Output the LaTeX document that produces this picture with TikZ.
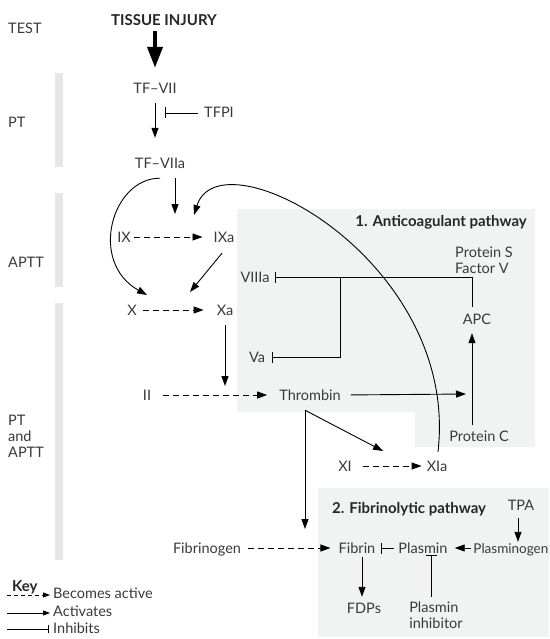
\documentclass[tikz,border=0pt]{standalone}
\usepackage{fontspec}
\setmainfont{Lato}
\usetikzlibrary{arrows.meta,calc}
\definecolor{txt}{HTML}{3A3A3A}
\definecolor{boxc}{HTML}{F1F2F2}
\definecolor{barc}{HTML}{E6E7E8}
\begin{document}
\begin{tikzpicture}[x=1pt,y=-1pt,
  lbl/.style={font=\fontsize{14.5}{16}\selectfont, text=txt, inner sep=2pt, text height=10pt, text depth=0pt},
  lblm/.style={font=\fontsize{14.5}{16}\selectfont, text=txt, inner sep=2pt, align=left},
  ttl/.style={lbl, font=\fontsize{15}{17}\selectfont\bfseries, text=black!85},
  act/.style={line width=0.9pt, -{Triangle[length=10pt,width=7pt]}},
  bec/.style={act, dash pattern=on 6pt off 4pt},
  inh/.style={line width=0.9pt, -{Bar[width=11pt]}},
  thickarr/.style={line width=4pt, -{Triangle[length=21pt,width=15pt]}},
  keyact/.style={line width=0.8pt, -{Triangle[length=7pt,width=5pt]}},
  keybec/.style={keyact, dash pattern=on 4pt off 3pt},
  keyinh/.style={line width=0.8pt, -{Bar[width=8pt]}},
]
\useasboundingbox (0,0) rectangle (549,639);
\fill[white] (0,0) rectangle (549,639);

% test bars
\fill[barc] (55,73) rectangle (63,167);
\fill[barc] (55,193) rectangle (63,287);
\fill[barc] (55,303) rectangle (63,560);

% pathway boxes
\fill[boxc] (237,209) -- (535,209) -- (535,447) -- (415,447) -- (415,412) -- (237,412) -- cycle;
\fill[boxc] (318,488) rectangle (549,637);

% test labels
\node[lbl, anchor=west] (test) at (6,29) {TEST};
\node[lbl, anchor=west] (pt) at (6,123) {PT};
\node[lbl, anchor=west] (aptt) at (6,262) {APTT};
\node[lblm, anchor=west] (ptaptt) at (6,436) {PT\\and\\APTT};

% nodes
\node[ttl] (ti) at (164,21) {TISSUE INJURY};
\node[lbl] (tfvii) at (155,89) {TF–VII};
\node[lbl] (tfpi) at (219,113) {TFPI};
\node[lbl] (tfviia) at (160,163) {TF–VIIa};
\node[lbl] (ix) at (124,237) {IX};
\node[lbl] (ixa) at (224,237) {IXa};
\node[lbl] (x) at (132,310) {X};
\node[lbl] (xa) at (225,310) {Xa};
\node[lbl] (ii) at (147,395) {II};
\node[lbl] (thr) at (310,395) {Thrombin};
\node[lbl] (viiia) at (255,277) {VIIIa};
\node[lbl] (va) at (257,357) {Va};
\node[lbl, anchor=west] (ps) at (453,252) {Protein S};
\node[lbl, anchor=west] (fv) at (453,268) {Factor V};
\node[lbl] (apc) at (477,319) {APC};
\node[lbl] (pc) at (479,436) {Protein C};
\node[lbl] (xi) at (345,466) {XI};
\node[lbl] (xia) at (437,466) {XIa};
\node[ttl, anchor=east] (t1) at (529,221) {1. Anticoagulant pathway};
\node[ttl, anchor=west] (t2) at (330,508) {2. Fibrinolytic pathway};
\node[lbl] (tpa) at (521,505) {TPA};
\node[lbl] (fibrinogen) at (207,548) {Fibrinogen};
\node[lbl] (fibrin) at (357,548) {Fibrin};
\node[lbl] (plasmin) at (423,548) {Plasmin};
\node[lbl, font=\fontsize{13.5}{16}\selectfont, anchor=east, inner xsep=0.5pt] (plasminogen) at (549,548) {Plasminogen};
\node[lbl] (fdps) at (364,608) {FDPs};
\node[lblm, anchor=north] (pinh) at (436,600) {Plasmin\\inhibitor};

% free ends
\coordinate (tfpibar) at (165,113);
\coordinate (ixact) at (175,214);
\coordinate (xact) at (147,295);
\coordinate (ixaact) at (194,215);
\coordinate (xaact) at (190,292);
\coordinate (thract) at (225,386);
\coordinate (pcact) at (466,394);
\coordinate (br) at (340,277);
\coordinate (fibact) at (305,529);
\coordinate (xiact) at (383,451);

% connectors
\draw[thickarr, shorten <=3pt, shorten >=14pt] (tfvii |- ti.south) -- (tfvii.north);
\draw[act, shorten <=7pt, shorten >=18pt] (tfvii.south) -- (tfvii.south |- tfviia.north);
\draw[inh, shorten <=4pt] (tfpi.west) -- (tfpibar);
\draw[act, shorten <=8pt] (tfviia.south -| ixact) -- (ixact);
\draw[act] ($(tfviia.south)+(0,8)$) .. controls (112,178) and (88,262) .. (xact);
\draw[act] ($(xia.north)+(1,-7)$) .. controls (460,260) and (220,132) .. (ixaact);
\draw[bec, shorten <=1pt, shorten >=9pt] (ix.east) -- (ixa.west);
\draw[act] ($(ixa.south)+(-2,9)$) -- (xaact);
\draw[bec, shorten <=4pt, shorten >=11pt] (x.east) -- (xa.west);
\draw[act] ($(xa.south)+(0,8)$) -- (thract);
\draw[bec, shorten <=10pt, shorten >=10pt] (ii.east) -- (thr.west);
\draw[act, shorten <=8pt] (thr.east) -- (pcact);
\draw[act] ($(pc.north)+(-7,-4)$) -- ($(apc.south)+(-5,7)$);
\draw[inh] ($(apc.north)+(-5,-5)$) |- ($(viiia.east)+(3,0)$);
\draw[inh] (br) |- ($(va.east)+(5,0)$);
\draw[act] ($(thr.south)+(-5,8)$) -- (fibact);
\draw[act] ($(thr.south)+(-5,8)$) -- (xiact);
\draw[bec, shorten <=9pt, shorten >=3pt] (xi.east) -- (xia.west);
\draw[bec, shorten <=5pt, shorten >=6pt] (fibrinogen.east) -- (fibrin.west);
\draw[inh, shorten <=2pt] (plasmin.west) -- ($(fibrin.east)+(3,0)$);
\draw[act, dash pattern=on 7pt off 3pt, shorten <=2pt, shorten >=5pt] (plasminogen.west) -- (plasmin.east);
\draw[act] ($(tpa.south)+(-3,6)$) -- ($(tpa.south |- plasminogen.north)+(-3,1)$);
\draw[act] ($(fdps.north |- fibrin.south)+(-2,2)$) -- ($(fdps.north)+(-2,-4)$);
\draw[inh] ($(pinh.north)+(-5,-3)$) -- ($(pinh.north |- plasmin.south)+(-5,0)$);

% key
\node[ttl, anchor=west] (key) at (10,586) {Key};
\node[lbl, anchor=west] (k1) at (51,593) {Becomes active};
\node[lbl, anchor=west] (k2) at (51,611) {Activates};
\node[lbl, anchor=west] (k3) at (51,628) {Inhibits};
\coordinate (k1s) at (7,595);
\coordinate (k2s) at (7,613);
\coordinate (k3s) at (7,629);
\draw[keybec, shorten >=1pt] (k1s) -- (k1s -| k1.west);
\draw[keyact, shorten >=1pt] (k2s) -- (k2s -| k2.west);
\draw[keyinh, shorten >=2pt] (k3s) -- (k3s -| k3.west);
\end{tikzpicture}
\end{document}
